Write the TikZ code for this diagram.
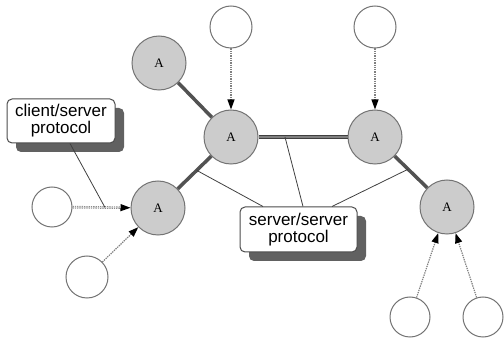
\documentclass[tikz,border=0pt]{standalone}
\usepackage{fontspec}
\setmainfont{Liberation Serif}
\newfontfamily\labelfont{Liberation Sans}
\usetikzlibrary{arrows.meta,shadows,calc}

\begin{document}
\begin{tikzpicture}[x=1pt,y=-1pt,
  server/.style={circle,draw=black!55,line width=1pt,fill=black!20,minimum size=54pt,inner sep=0pt,
    font=\fontsize{13}{13}\selectfont},
  client/.style={circle,draw=black!55,line width=1pt,fill=white,minimum size=42pt,inner sep=0pt},
  link/.style={line width=3.5pt,draw=black!68},
  duallink/.style={draw=black!75,line width=1.3pt,double=black!50,double distance=1.1pt},
  req/.style={dash pattern=on 1.3pt off 1pt,line width=1.2pt,draw=black!50,
    -{Triangle[length=10pt,width=7pt,fill=black,color=black]}},
  note/.style={draw=black!70,line width=1pt,fill=white,rounded corners=5pt,align=center,
    font=\labelfont\fontsize{17}{17}\selectfont,inner sep=0pt,
    drop shadow={shadow xshift=9pt,shadow yshift=-9pt,fill=black!62,opacity=1}},
  callout/.style={line width=0.8pt,draw=black!75}
]
\useasboundingbox (0,0) rectangle (504,339);

% servers
\node[server] (a1) at (159,63) {A};
\node[server] (a2) at (231,137) {A};
\node[server] (a3) at (375,137) {A};
\node[server] (a4) at (158,208) {A};
\node[server] (a5) at (447,207) {A};

% clients
\node[client] (w1) at (231,27) {};
\node[client] (w2) at (375,27) {};
\node[client,minimum size=40pt] (w3) at (52,207) {};
\node[client] (w4) at (87,277) {};
\node[client,minimum size=40pt] (w5) at (410,317) {};
\node[client,minimum size=40pt] (w6) at (483,317) {};

% server/server links
\draw[link] (a1) -- (a2);
\draw[duallink] (a2) -- (a3);
\draw[link] (a2) -- (a4);
\draw[link] (a3) -- (a5);

% client requests
\draw[req] (w1) -- (a2);
\draw[req] (w2) -- (a3);
\draw[req,draw=black!45,line width=1pt,double=black!15,double distance=0.6pt] (w3) -- (a4);
\draw[req] (w4) -- (a4);
\draw[req] (w5) -- (a5);
\draw[req] (w6) -- (a5);

% protocol labels
\node[note,minimum width=108pt,minimum height=44pt] (cs) at (61,121) {client/server\\protocol};
\node[note,minimum width=117pt,minimum height=45pt] (ss) at (298.5,229.5) {server/server\\protocol};

\coordinate (j0) at ($(w3)!0.5!(a4)$);
\coordinate (j1) at ($(a2)!0.47!(a4)$);
\coordinate (j2) at ($(a2)!0.375!(a3)$);
\coordinate (j3) at ($(a3)!0.46!(a5)$);

\draw[callout] ([xshift=9pt]cs.south) -- (j0);
\draw[callout] ([xshift=-35.5pt]ss.north) -- (j1);
\draw[callout] ([xshift=4.5pt]ss.north) -- (j2);
\draw[callout] ([xshift=33.5pt]ss.north) -- (j3);
\end{tikzpicture}
\end{document}
